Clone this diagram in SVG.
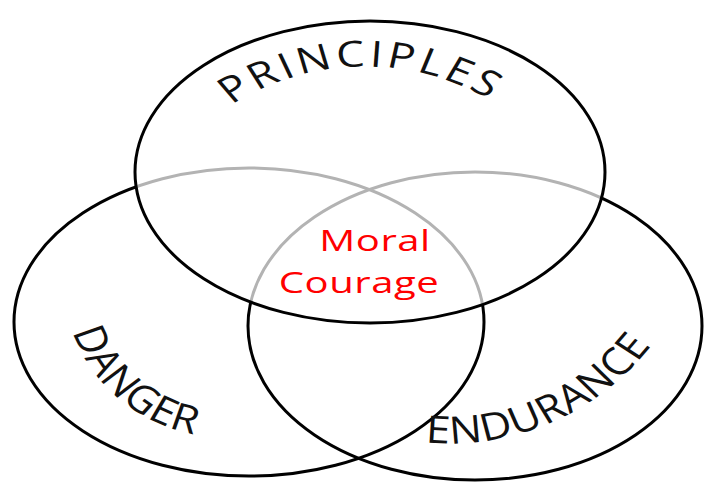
<svg xmlns="http://www.w3.org/2000/svg" width="711" height="484" viewBox="0 0 711 484">
<style>
.ring{stroke:#000;stroke-width:3}
.lbl{font-family:"Open Sans","Noto Sans",sans-serif;fill:#111;font-weight:500}
.mc{font-family:"Open Sans","Noto Sans",sans-serif;fill:#ff0000;font-size:29px}
</style>
<defs>
<path id="pPrin" d="M191.45 191.75 A200.4 250.5 0 0 1 538.55 191.75"/>
<path id="pDang" d="M85.8 249.9 A138.3 159 0 0 0 269.3 426.9"/>
<path id="pEndu" d="M319.4 394.7 A222.2 255.5 0 0 0 670.9 214.7"/>
</defs>
<rect width="711" height="484" fill="#fff"/>
<g id="danger">
<ellipse class="ring" cx="249" cy="322" rx="235" ry="154" fill="none"/>
<text class="lbl" font-size="38" letter-spacing="0.3" transform="translate(222,0) scale(1.15,1) translate(-222,0)"><textPath href="#pDang" startOffset="160" text-anchor="middle">DANGER</textPath></text>
</g>
<g id="endurance">
<ellipse class="ring" cx="475" cy="326" rx="227" ry="154" fill="none"/>
<text class="lbl" font-size="38" letter-spacing="0.5" transform="translate(450,0) scale(1.15,1) translate(-450,0)"><textPath href="#pEndu" startOffset="236" text-anchor="middle">ENDURANCE</textPath></text>
</g>
<g id="principles">
<ellipse class="ring" cx="370" cy="172" rx="235" ry="151" fill="#fff" fill-opacity="0.7"/>
<text class="lbl" font-size="36" letter-spacing="3" transform="translate(365,0) scale(1.25,1) translate(-365,0)"><textPath href="#pPrin" startOffset="222.6" text-anchor="middle">PRINCIPLES</textPath></text>
</g>
<g id="moral-courage">
<text class="mc" text-anchor="middle" letter-spacing="0.4" transform="translate(375,251) scale(1.38,1)">Moral</text>
<text class="mc" text-anchor="middle" letter-spacing="0.4" transform="translate(359,293) scale(1.38,1)">Courage</text>
</g>
<g id="connectors"></g>
</svg>
